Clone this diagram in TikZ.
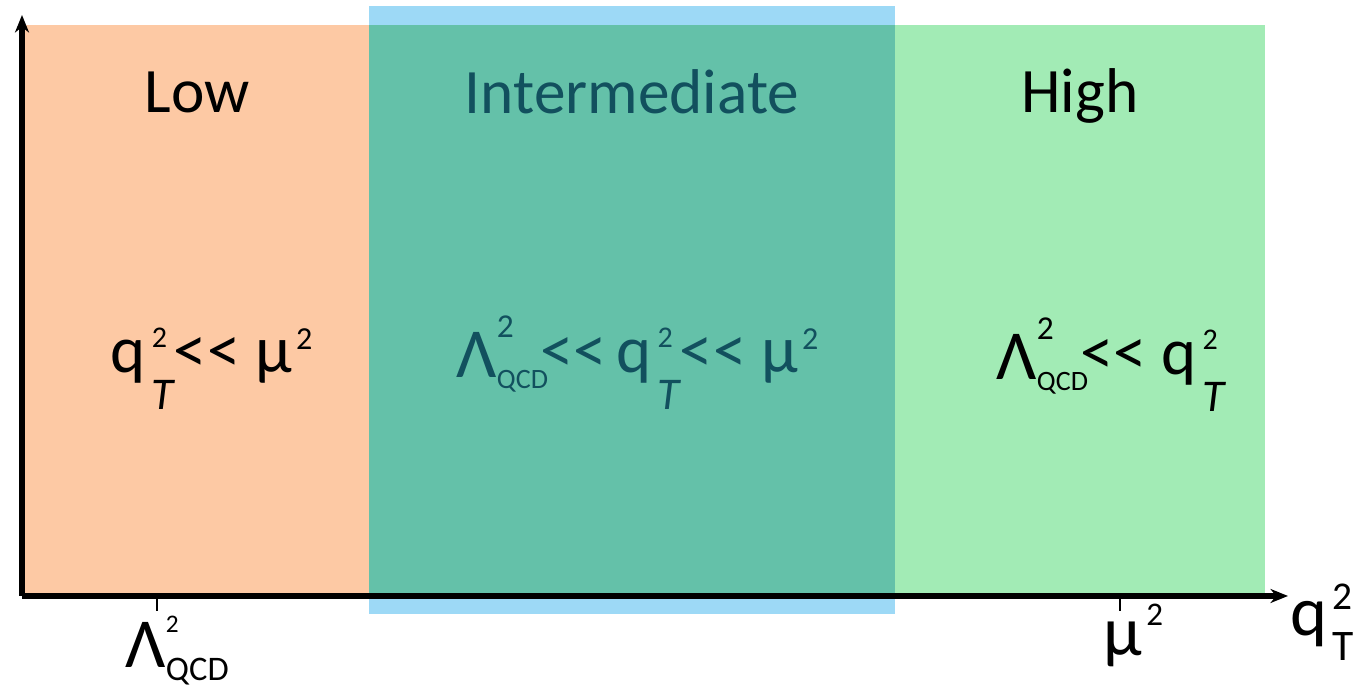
\documentclass[tikz,border=0pt]{standalone}
\usepackage{graphicx}
\usepackage{fontspec}
\setmainfont{Carlito}
\usepackage{xcolor}
\usetikzlibrary{arrows.meta, positioning, calc}
\definecolor{lowpeach}{HTML}{FDC9A4}
\definecolor{midteal}{HTML}{64C1A9}
\definecolor{midblue}{HTML}{9DD9F6}
\definecolor{highgreen}{HTML}{A2EBB5}
\definecolor{midtext}{HTML}{12505E}
% raised / lowered small text: {shift}{scale}{text}
\newcommand\up[3]{\raisebox{#1}{\scalebox{#2}{#3}}}
\newcommand\dn[3]{\raisebox{-#1}{\scalebox{#2}{#3}}}
\newcommand\muchless{<{}<}
\newcommand\qT{q\kern0.06cm\rlap{\up{0.8ex}{0.45}{2}}\dn{1.13ex}{0.68}{\itshape T}}
\newcommand\muSq{μ\kern0.04cm\up{0.75ex}{0.48}{2}}
\newcommand\LamQCD{\raisebox{-0.15ex}{\fontsize{20}{24}\selectfont Λ}%
  \rlap{\up{1.1ex}{0.5}{2}}\dn{0.5ex}{0.42}{QCD}\kern-0.08cm}

\begin{document}
\begin{tikzpicture}[
        axis/.style={line width=1.6pt, -{Stealth[length=5pt, width=4pt]}},
        tick/.style={line width=0.8pt},
        title/.style={inner sep=0pt, anchor=base, font=\fontsize{18}{21}\selectfont},
        relation/.style={inner sep=0pt, anchor=base west, font=\fontsize{19}{22}\selectfont},
        ticklabel/.style={inner sep=0pt, anchor=base west, font=\fontsize{20}{24}\selectfont}
      ]
      \useasboundingbox (0,0) rectangle (13.53,6.85);
      \fill[lowpeach]  (0.22,0.89) rectangle (3.69,6.60);
      \fill[midblue]   (3.69,0.71) rectangle (8.95,6.79);
      \fill[midteal]   (3.69,0.89) rectangle (8.95,6.60);
      \fill[highgreen] (8.95,0.89) rectangle (12.65,6.60);
      \coordinate (O) at (0.22,0.89);
      \coordinate (ytop) at (0.22,6.70);
      \coordinate (xend) at (12.88,0.89);
      \draw[axis] (O) -- (ytop);
      \draw[axis] (O) -- (xend);
      \coordinate (tLam) at (1.57,0.89);
      \coordinate (tMu) at (11.20,0.89);
      \draw[tick] (tLam) -- ++(0,-0.15);
      \draw[tick] (tMu) -- ++(0,-0.15);
      \node[title] (low) at (1.97,5.72) {Low};
      \node[title, text=midtext] (mid) at (6.32,5.71) {Intermediate};
      \node[title] (high) at (10.80,5.72) {High};
      \node[relation] (rlow) at (1.10,3.12) {\qT\muchless\ \muSq};
      \node[relation, text=midtext] (rmid) at (4.56,3.12)
        {\LamQCD\muchless\hspace{0.1cm}\qT\muchless\ \muSq};
      \node[relation] (rhigh) at (9.96,3.10) {\LamQCD\muchless\ \qT};
      \node[ticklabel] (lLam) at (1.25,0.17)
        {Λ\rlap{\up{1.07ex}{0.36}{2}}\dn{0.37ex}{0.49}{QCD}};
      \node[ticklabel] (lMu) at (11.03,0.29) {μ\kern0.04cm\up{0.9ex}{0.47}{2}};
      \node[ticklabel] (lq) at (12.90,0.49)
        {q\kern0.05cm\rlap{\up{0.8ex}{0.56}{2}}\dn{0.74ex}{0.62}{T}};
    \end{tikzpicture}
\end{document}
